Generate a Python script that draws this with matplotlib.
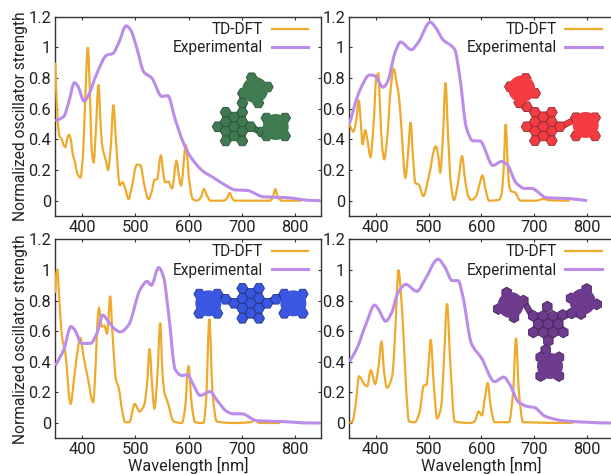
import numpy as np
import matplotlib
matplotlib.use("Agg")
import matplotlib.pyplot as plt
from matplotlib.path import Path
from matplotlib.patches import PathPatch, Polygon
from matplotlib.lines import Line2D

plt.rcParams['font.family'] = ['Roboto', 'DejaVu Sans']

W, H = 611, 474
TD_COLOR = '#eeaa2c'
EXP_COLOR = '#bb8de8'
INK = '#333333'
TXT = '#222222'

# ---------- values ----------
td1_x = [350,352,355,358,362,366,369,372,376,379,383,387,391,397,402,406,411,415,418,422,426,431,435,438,441,445,449,454,459,464,471,476,481,487.5,493,503,510,516,525,531,536,541,548,553,556,562,569,577.5,582,586,595,601,608,616,623,629,635,641,666,672,677,682,687,753,758,763,768,775,812]
td1_y = [.90,.70,.50,.42,.40,.36,.35,.40,.43,.40,.30,.25,.18,.15,.30,.65,1.0,.70,.35,.25,.45,.757,.50,.36,.31,.26,.20,.35,.626,.38,.10,.12,.08,.01,.08,.235,.23,.12,.01,.06,.135,.14,.295,.17,.12,.125,.08,.26,.16,.10,.36,.14,.01,0,.02,.075,.03,0,0,.015,.05,.015,0,0,.02,.075,.02,0,0]
exp1_x = [350,366,375,386,392,404,412.5,428,447,458,469,483,491,503,516,531,550,561,575,590.6,603,628,647,672,687.5,709,741,784,828,848]
exp1_y = [.52,.55,.64,.77,.75,.65,.69,.83,.95,.96,1.03,1.14,1.115,.995,.84,.80,.68,.685,.53,.375,.29,.19,.15,.095,.07,.067,.025,.02,.002,0]

td2_x = [350,357.5,363,368,372,375,380,385,390,396,401,405,408,412,416,422,428,434,440,444,450,456,461,466,471,475,481.4,490,500,513.6,518,522,527,532,537,542,548,556,563.4,569,575,581,590,596,602,608,614.5,633,638,642,646,650,653,657,663,674,704,716.7,730,767]
td2_y = [.50,.45,.52,.65,.50,.365,.46,.38,.285,.50,.80,.83,.62,.36,.27,.42,.72,.86,.76,.68,.40,.15,.30,.51,.26,.115,.105,.03,.15,.355,.30,.185,.40,.77,.42,.12,.005,.12,.29,.14,.03,.005,.03,.10,.165,.07,0,.005,.04,.20,.50,.22,.09,.06,.055,0,0,.01,.002,0]
exp2_x = [350,370,388.6,398,414,423,436,447,467.5,480,503.5,511.7,527.4,549.5,559,571.6,584,596.8,622,637.9,648.6,666,682,694.6,723,767,800]
exp2_y = [.50,.72,.82,.815,.74,.78,.96,1.035,.985,1.03,1.165,1.137,1.05,.985,.81,.475,.39,.39,.23,.255,.235,.115,.08,.08,.02,.013,0]

td3_x = [350,352,354,356,358,362.5,369,373,376,379,383,389,397,403,411,421,426,429,432,437.5,442,447,450,453,457,464,469,475,481,489,499,508,517,522,527,531,536,541,547,551,555,560.6,572,587.5,593,600,606,612.5,628,633,639,645,653,684,716,723,734,772]
td3_y = [.85,.98,1.0,.90,.78,.565,.455,.30,.17,.125,.22,.40,.555,.435,.295,.135,.40,.65,.75,.63,.635,.585,.70,.83,.60,.28,.23,.09,.005,.005,.125,.075,.12,.25,.485,.28,.095,.28,.655,.33,.195,.14,.01,0,.08,.37,.12,.005,0,.15,.68,.20,.01,0,.005,.017,0,0]
exp3_x = [350,366,379.4,386,400,416,428,439.4,447,462.8,472,487.5,509,522,530,544,553,562.5,575,587.5,598,609,622,640.6,653,672,684,700,728,772,828,848]
exp3_y = [.375,.48,.63,.61,.52,.52,.585,.705,.675,.61,.595,.64,.87,.925,.90,1.015,.955,.717,.35,.31,.315,.25,.18,.205,.15,.075,.06,.06,.015,.01,0,0]

td4_x = [350,356,362,368.5,379,384,390.5,399,405,411,416,421.5,431.5,437,443,449,452,458,463,474,483,491,496,500,504,510,516,524,529,535,541,549.5,578,587,595,601,606,612,618,625,652,660,665.6,671,679,773]
td4_y = [0,.01,.12,.305,.25,.24,.345,.255,.36,.53,.33,.23,.315,.60,1.0,.78,.61,.20,.01,.005,.07,.245,.25,.38,.545,.25,.03,.11,.40,.78,.40,.01,0,.01,.075,.05,.15,.26,.10,.005,.005,.20,.555,.20,.005,0]
exp4_x = [350,363.4,382,398,404,419,430,442,457,478,493,518,530.6,545,556,565,581,600,625,642,654,669.4,685,701,720,754.6,799,843,850]
exp4_y = [.40,.48,.65,.77,.75,.665,.72,.85,.905,.86,.935,1.07,1.02,.93,.93,.825,.52,.425,.27,.30,.25,.14,.11,.10,.045,.015,.005,0,0]

x_ticks = [400, 500, 600, 700, 800]
y_ticks = [0, 0.2, 0.4, 0.6, 0.8, 1, 1.2]
y_tick_labels = ['0', '0.2', '0.4', '0.6', '0.8', '1', '1.2']
series_labels = ['TD-DFT', 'Experimental']
x_label = 'Wavelength [nm]'
y_label = 'Normalized oscillator strength'


def smooth_path(x, y):
    """Bezier path passing through exactly the read points."""
    x = np.asarray(x, float); y = np.asarray(y, float)
    h = np.diff(x); s = np.diff(y) / h
    m = np.zeros_like(x)
    m[0], m[-1] = s[0], s[-1]
    for i in range(1, len(x) - 1):
        if s[i - 1] * s[i] > 0:
            w1 = 2 * h[i] + h[i - 1]; w2 = h[i] + 2 * h[i - 1]
            m[i] = (w1 + w2) / (w1 / s[i - 1] + w2 / s[i])
    verts = [(x[0], y[0])]; codes = [Path.MOVETO]
    for i in range(len(h)):
        verts += [(x[i] + h[i] / 3, y[i] + m[i] * h[i] / 3),
                  (x[i + 1] - h[i] / 3, y[i + 1] - m[i + 1] * h[i] / 3),
                  (x[i + 1], y[i + 1])]
        codes += [Path.CURVE4] * 3
    return Path(verts, codes)


def px_axes(fig, left, top, right, bottom):
    return fig.add_axes([left / W, 1 - bottom / H, (right - left) / W, (bottom - top) / H])


def hexagon(cx, cy, r, pointy):
    a0 = np.pi / 6 if pointy else 0
    ang = a0 + np.arange(6) * np.pi / 3
    return np.column_stack([cx + r * np.cos(ang), cy + r * np.sin(ang)])


def to_fig(p):
    p = np.atleast_2d(p).astype(float)
    return np.column_stack([p[:, 0] / W, 1 - p[:, 1] / H])


def molecule(fig, hexes, bonds, blobs, face, edge, pointy=False, r=5.5):
    for a, b in bonds:
        xs = [a[0] / W, b[0] / W]; ys = [1 - a[1] / H, 1 - b[1] / H]
        fig.add_artist(Line2D(xs, ys, transform=fig.transFigure, color=edge, lw=4.6, zorder=5,
                              solid_capstyle='butt'))
        fig.add_artist(Line2D(xs, ys, transform=fig.transFigure, color=face, lw=3.6, zorder=5.1,
                              solid_capstyle='butt'))
    for cx, cy in hexes:
        fig.add_artist(Polygon(to_fig(hexagon(cx, cy, r, pointy)), closed=True, facecolor=face,
                               edgecolor=edge, lw=0.6, transform=fig.transFigure, zorder=6))
    th = np.linspace(0, 2 * np.pi, 60)
    for cx, cy, R in blobs:
        fig.add_artist(Polygon(to_fig(np.column_stack([cx + R * np.cos(th), cy + R * np.sin(th)])),
                               closed=True, facecolor=face, edgecolor='none',
                               transform=fig.transFigure, zorder=6.5))


def z(ox, oy, pts):
    return [(ox + a / 3, oy + b / 3) for a, b in pts]


fig = plt.figure(figsize=(W / 100, H / 100), dpi=100)

# rect, series, xmax, y label, x label, legend handle end px, TD-DFT row centre px
panels = [
    ((55.3, 16.7, 320.7, 216.0), td1_x, td1_y, exp1_x, exp1_y, 848, True, False, 308, 30),
    ((349.3, 16.7, 613.5, 216.0), td2_x, td2_y, exp2_x, exp2_y, 850, False, False, 601.5, 30),
    ((55.3, 239.3, 320.7, 438.3), td3_x, td3_y, exp3_x, exp3_y, 848, True, True, 308, 252.5),
    ((349.3, 239.3, 613.5, 438.3), td4_x, td4_y, exp4_x, exp4_y, 850, False, True, 601.5, 252.5),
]

for rect, tx, ty, ex, ey, xmax, show_y, show_x, leg_r, leg_y in panels:
    ax = px_axes(fig, *rect)
    ax.set_xlim(350, xmax)
    ax.set_ylim(-0.1, 1.2)
    ax.add_patch(PathPatch(smooth_path(tx, ty), fill=False, edgecolor=TD_COLOR, lw=1.6,
                           transform=ax.transData, zorder=3))
    ax.add_patch(PathPatch(smooth_path(ex, ey), fill=False, edgecolor=EXP_COLOR, lw=2.2,
                           transform=ax.transData, zorder=4))
    ax.set_xticks(x_ticks)
    ax.set_yticks(y_ticks)
    ax.set_yticklabels(y_tick_labels)
    ax.tick_params(direction='in', length=2.5, width=0.8, top=True, right=True,
                   labelsize=11.8, labelcolor=TXT, pad=3, color=INK)
    for sp in ax.spines.values():
        sp.set_color(INK)
        sp.set_linewidth(1.0)
    if show_y:
        ax.set_ylabel(y_label, fontsize=11.2, color=TXT, labelpad=0)
    if show_x:
        ax.set_xlabel(x_label, fontsize=11.7, color=TXT, labelpad=0)
    handles = [Line2D([], [], color=TD_COLOR, lw=1.6), Line2D([], [], color=EXP_COLOR, lw=2.2)]
    leg = ax.legend(handles, series_labels, loc='upper right', frameon=False, markerfirst=False,
                    fontsize=11.2, handlelength=2.32, handletextpad=0.55, labelspacing=0.22,
                    borderpad=0, borderaxespad=0,
                    bbox_to_anchor=(leg_r / W, 1 - (leg_y - 8) / H),
                    bbox_transform=fig.transFigure)
    for col in leg._legend_box.get_children()[-1].get_children():
        col.align = 'right'
    for t in leg.get_texts():
        t.set_color(TXT)

# ---------- molecule insets ----------
g_hex = [(217.7,126.7),(225.7,112.3),(225.7,121.7),(225.7,131.3),(225.7,141),(234,117),(234,126.7),(234,136),
         (242.3,112.3),(242.3,121.7),(242.3,131.3),(242.3,141),(250.7,126.7),
         (242.5,103),(243,93.5),(251.7,77.7),(267.7,87),(258.3,103),(262,132),
         (266.5,118),(285,118),(266.5,136),(285,136)]
molecule(fig, g_hex, [((242.5,108),(242.5,90)),((251,127),(268,136))],
         [(255,90,13),(275.7,127,13)], '#3f7a50', '#2b4f37')

r_hex = [(526.7,126.7),(535,112.3),(535,121.7),(535,131),(535,140.7),(543.3,116.7),(543.3,126.7),(543.3,136),
         (551.7,112.3),(551.7,121.7),(551.7,131),(551.7,140.7),(560,126.7),
         (526.7,106.7),(519.3,102.7),(510,86.7),(525.7,78.3),(535,93.3),
         (576,117.7),(595,117.7),(576,136),(595,136)]
molecule(fig, r_hex, [((528,110),(517,100)),((562,126),(578,118))],
         [(521.7,89,13.5),(585.7,125,13)], '#f43b42', '#8a2b30')

b_hex = z(190, 280, [(132,70),(157,25),(157,55),(157,85),(157,115),(182,40),(182,70),(182,100),
                     (207,25),(207,55),(207,85),(207,115),(232,70),(107,58),(258,58),
                     (28,42),(82,42),(28,100),(82,100),(283,42),(338,42),(283,100),(338,100)])
b_bonds = [(z(190,280,[(125,65)])[0], z(190,280,[(85,45)])[0]),
           (z(190,280,[(238,65)])[0], z(190,280,[(280,45)])[0])]
molecule(fig, b_hex, b_bonds,
         [(190 + 55 / 3, 280 + 70 / 3, 13), (190 + 310 / 3, 280 + 70 / 3, 13)],
         '#3a57e2', '#22337f')

p_hex = z(490, 280, [(172,80),(130,108),(159,108),(188,108),(218,105),(145,132),(175,132),(205,132),
                     (130,157),(160,157),(190,157),(220,157),(175,183),(167,210),
                     (152,232),(207,232),(152,288),(207,288),
                     (50,38),(100,62),(72,112),(25,87),(245,100),(273,102),(290,27),(320,73),(243,55)])
p_bonds = [(z(490,280,[(168,205)])[0], z(490,280,[(160,235)])[0]),
           (z(490,280,[(125,105)])[0], z(490,280,[(100,62)])[0]),
           (z(490,280,[(220,105)])[0], z(490,280,[(270,100)])[0])]
molecule(fig, p_hex, p_bonds,
         [(490 + 180 / 3, 280 + 258 / 3, 13), (490 + 62 / 3, 280 + 75 / 3, 13), (490 + 278 / 3, 280 + 65 / 3, 13)],
         '#6e3b8e', '#432456', pointy=True)

fig.savefig('out.png', dpi=100)
